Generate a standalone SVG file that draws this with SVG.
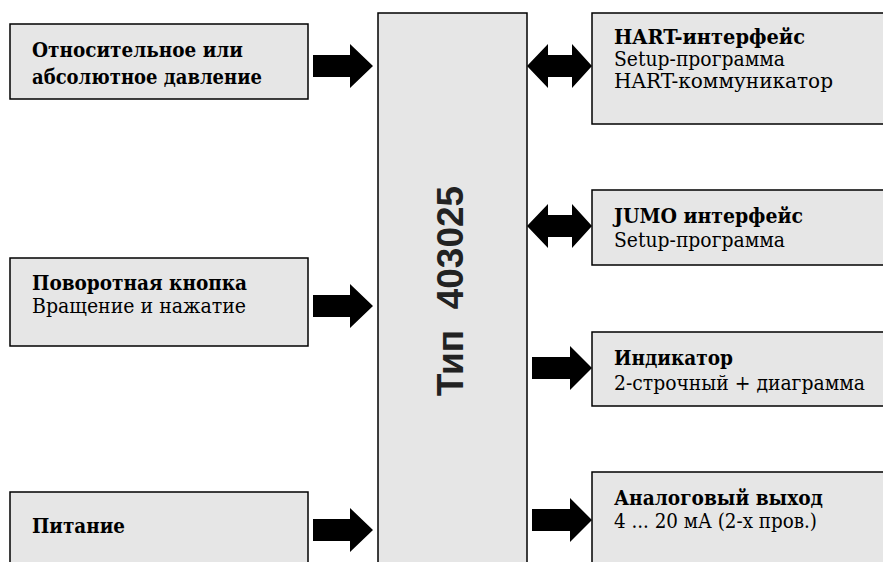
<svg xmlns="http://www.w3.org/2000/svg" width="883" height="562" viewBox="0 0 883 562">
<style>
.box{fill:#e6e6e6;stroke:#000;stroke-width:1.5}
.t{font-family:"DejaVu Serif","Liberation Serif","Times New Roman",serif;font-size:20px;fill:#000}
.b{font-weight:bold}
.arr{fill:#000;stroke:none}
.main{font-family:"Liberation Sans",Arial,sans-serif;font-size:37px;font-weight:bold;fill:#222}
</style>
<rect width="883" height="562" fill="#fff"/>
<g id="n-pressure">
<rect class="box" x="10" y="24" width="298" height="75"/>
<text class="t b" x="32" y="57" textLength="211" lengthAdjust="spacingAndGlyphs">Относительное или</text>
<text class="t b" x="32" y="84" textLength="230" lengthAdjust="spacingAndGlyphs">абсолютное давление</text>
</g>
<g id="n-knob">
<rect class="box" x="10" y="258" width="298" height="88"/>
<text class="t b" x="32" y="290" textLength="215" lengthAdjust="spacingAndGlyphs">Поворотная кнопка</text>
<text class="t" x="32" y="313" textLength="214" lengthAdjust="spacingAndGlyphs">Вращение и нажатие</text>
</g>
<g id="n-power">
<rect class="box" x="10" y="492" width="298" height="80"/>
<text class="t b" x="32" y="533" textLength="93" lengthAdjust="spacingAndGlyphs">Питание</text>
</g>
<g id="n-main">
<rect class="box" x="378" y="13" width="149" height="560"/>
<text class="main" xml:space="preserve" text-anchor="middle" transform="translate(463,291) rotate(-90)">Тип  403025</text>
</g>
<g id="n-hart">
<rect class="box" x="592" y="13" width="300" height="111"/>
<text class="t b" x="614" y="44" textLength="191" lengthAdjust="spacingAndGlyphs">HART-интерфейс</text>
<text class="t" x="614" y="66" textLength="171" lengthAdjust="spacingAndGlyphs">Setup-программа</text>
<text class="t" x="614" y="88" textLength="219" lengthAdjust="spacingAndGlyphs">HART-коммуникатор</text>
</g>
<g id="n-jumo">
<rect class="box" x="592" y="190" width="300" height="75"/>
<text class="t b" x="614" y="223" textLength="189" lengthAdjust="spacingAndGlyphs">JUMO интерфейс</text>
<text class="t" x="614" y="247" textLength="171" lengthAdjust="spacingAndGlyphs">Setup-программа</text>
</g>
<g id="n-display">
<rect class="box" x="592" y="332" width="300" height="74"/>
<text class="t b" x="614" y="365" textLength="119" lengthAdjust="spacingAndGlyphs">Индикатор</text>
<text class="t" x="614" y="390" textLength="251" lengthAdjust="spacingAndGlyphs">2-строчный + диаграмма</text>
</g>
<g id="n-analog">
<rect class="box" x="592" y="472" width="300" height="100"/>
<text class="t b" x="614" y="505" textLength="209" lengthAdjust="spacingAndGlyphs">Аналоговый выход</text>
<text class="t" x="614" y="528" textLength="203" lengthAdjust="spacingAndGlyphs">4 ... 20 мА (2-х пров.)</text>
</g>
<g id="connectors">
<polygon class="arr" points="313,55 350,55 350,44 373,66 350,88 350,77 313,77"/>
<polygon class="arr" points="313,295 350,295 350,284 373,306 350,328 350,317 313,317"/>
<polygon class="arr" points="313,519 350,519 350,508 373,530 350,552 350,541 313,541"/>
<polygon class="arr" points="527,66 548,44 548,55 572,55 572,44 592,66 572,88 572,77 548,77 548,88"/>
<polygon class="arr" points="527,226 548,204 548,215 572,215 572,204 592,226 572,248 572,237 548,237 548,248"/>
<polygon class="arr" points="532,357 570,357 570,346 592,368 570,390 570,379 532,379"/>
<polygon class="arr" points="532,509 570,509 570,498 592,520 570,542 570,531 532,531"/>
</g>
</svg>
